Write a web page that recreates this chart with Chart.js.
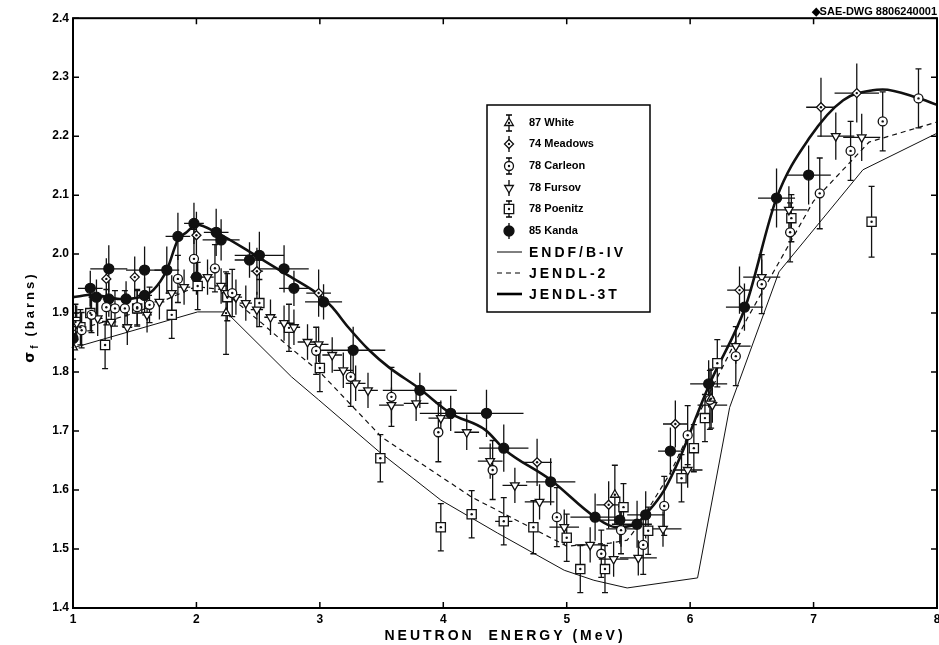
<!DOCTYPE html>
<html>
<head>
<meta charset="utf-8">
<script src="https://cdn.jsdelivr.net/npm/chart.js@4.4.0/dist/chart.umd.min.js"></script>
<style>
  html, body { margin: 0; padding: 0; background: #fff; }
</style>
</head>
<body>
<canvas id="sigmaChart" width="939" height="645"></canvas>
<script>
// axis ticks
const xTicks = [1, 2, 3, 4, 5, 6, 7, 8];
const yTicks = [1.4, 1.5, 1.6, 1.7, 1.8, 1.9, 2.0, 2.1, 2.2, 2.3, 2.4];

// 87 White
const whiteE = [1.00, 2.24, 5.39, 6.17];
const whiteS = [1.842, 1.900, 1.592, 1.755];
const whiteDS = [0.02, 0.07, 0.05, 0.05];

// 74 Meadows
const meadowsE = [1.27, 1.50, 2.00, 2.49, 2.99, 4.76, 5.34, 5.88, 6.40, 7.06, 7.35];
const meadowsS = [1.958, 1.961, 2.032, 1.971, 1.934, 1.647, 1.575, 1.712, 1.939, 2.249, 2.273];
const meadowsDE = [0, 0, 0, 0.05, 0.10, 0.12, 0.10, 0.10, 0.10, 0.12, 0.18];
const meadowsDS = [0.035, 0.035, 0.04, 0.04, 0.04, 0.04, 0.04, 0.04, 0.04, 0.05, 0.05];

// 78 Carlson
const carlsonE = [1.07, 1.15, 1.27, 1.34, 1.42, 1.52, 1.62, 1.85, 1.98, 2.15, 2.29, 2.97, 3.25, 3.58, 3.96,
  4.40, 4.92, 5.28, 5.44, 5.62, 5.79, 5.98, 6.16, 6.37, 6.58, 6.81, 7.05, 7.30, 7.56, 7.85];
const carlsonS = [1.871, 1.897, 1.910, 1.908, 1.908, 1.910, 1.914, 1.958, 1.992, 1.976, 1.934, 1.836, 1.792, 1.758, 1.698,
  1.634, 1.554, 1.492, 1.532, 1.507, 1.573, 1.693, 1.753, 1.827, 1.949, 2.037, 2.103, 2.175, 2.225, 2.264];
const carlsonDS = [0.03, 0.03, 0.03, 0.03, 0.03, 0.03, 0.03, 0.04, 0.05, 0.04, 0.04, 0.04, 0.05, 0.05, 0.05,
  0.05, 0.05, 0.04, 0.04, 0.05, 0.05, 0.05, 0.05, 0.05, 0.05, 0.05, 0.06, 0.05, 0.05, 0.05];

// 78 Fursov
const fursovE = [1.03, 1.20, 1.31, 1.44, 1.60, 1.70, 1.80, 1.90, 2.09, 2.20, 2.25, 2.32, 2.40, 2.49, 2.60, 2.71, 2.79,
  2.90, 2.99, 3.10, 3.19, 3.29, 3.39, 3.58, 3.78, 3.98, 4.19, 4.38, 4.58, 4.78, 4.98, 5.19, 5.38, 5.44, 5.58,
  5.78, 5.98, 6.18, 6.37, 6.58, 6.80, 7.18, 7.39];
const fursovS = [1.883, 1.891, 1.885, 1.876, 1.897, 1.919, 1.934, 1.944, 1.961, 1.946, 1.934, 1.927, 1.917, 1.906, 1.893, 1.883, 1.876,
  1.851, 1.847, 1.829, 1.803, 1.781, 1.769, 1.744, 1.747, 1.722, 1.698, 1.649, 1.608, 1.580, 1.537, 1.507, 1.483, 1.534, 1.485,
  1.534, 1.634, 1.744, 1.844, 1.961, 2.075, 2.200, 2.198];
const fursovDE = [0.03, 0.04, 0.04, 0.04, 0.04, 0.04, 0.05, 0.05, 0.05, 0.05, 0.05, 0.05, 0.05, 0.05, 0.05, 0.05, 0.05,
  0.08, 0.08, 0.08, 0.08, 0.08, 0.08, 0.10, 0.10, 0.10, 0.10, 0.10, 0.10, 0.12, 0.12, 0.12, 0.12, 0.12, 0.15,
  0.15, 0.12, 0.12, 0.12, 0.15, 0.15, 0.15, 0.15];
const fursovDS = [0.03, 0.03, 0.03, 0.03, 0.03, 0.03, 0.03, 0.03, 0.03, 0.03, 0.03, 0.03, 0.03, 0.03, 0.03, 0.03, 0.03,
  0.03, 0.03, 0.03, 0.03, 0.03, 0.03, 0.03, 0.03, 0.03, 0.03, 0.03, 0.03, 0.03, 0.03, 0.03, 0.03, 0.03, 0.03,
  0.03, 0.03, 0.03, 0.03, 0.03, 0.04, 0.04, 0.04];

// 78 Poenitz
const poenitzE = [1.02, 1.06, 1.14, 1.26, 1.52, 1.80, 2.01, 2.25, 2.51, 2.75, 3.00, 3.49, 3.98, 4.23, 4.49, 4.73,
  5.00, 5.11, 5.31, 5.46, 5.66, 5.93, 6.03, 6.12, 6.22, 6.82, 7.47];
const poenitzS = [1.885, 1.876, 1.900, 1.846, 1.908, 1.897, 1.946, 1.927, 1.917, 1.875, 1.807, 1.654, 1.537, 1.559, 1.547, 1.537,
  1.519, 1.466, 1.466, 1.571, 1.531, 1.620, 1.671, 1.722, 1.815, 2.061, 2.055];
const poenitzDE = [0, 0, 0, 0, 0, 0, 0, 0, 0, 0, 0, 0, 0, 0, 0.07, 0, 0, 0, 0, 0, 0, 0, 0, 0, 0, 0, 0];
const poenitzDS = [0.03, 0.03, 0.03, 0.04, 0.03, 0.04, 0.04, 0.04, 0.04, 0.04, 0.04, 0.04, 0.04, 0.04, 0.04, 0.045,
  0.04, 0.04, 0.04, 0.04, 0.04, 0.04, 0.04, 0.04, 0.04, 0.04, 0.06];

// 85 Kanda
const kandaE = [1.00, 1.14, 1.19, 1.29, 1.29, 1.43, 1.58, 1.58, 1.76, 1.85, 1.98, 2.00, 2.16, 2.20, 2.43, 2.51, 2.71,
  2.79, 3.03, 3.27, 3.81, 4.06, 4.35, 4.49, 4.87, 5.23, 5.43, 5.57, 5.64, 5.84, 6.15, 6.44, 6.70, 6.96];
const kandaS = [1.857, 1.942, 1.927, 1.975, 1.924, 1.924, 1.973, 1.930, 1.973, 2.030, 2.052, 1.961, 2.037, 2.024, 1.990, 1.998, 1.975,
  1.942, 1.919, 1.837, 1.769, 1.730, 1.730, 1.671, 1.614, 1.554, 1.549, 1.542, 1.558, 1.666, 1.780, 1.910, 2.095, 2.134];
const kandaDE = [0.03, 0.10, 0.06, 0.15, 0.05, 0.06, 0.15, 0.06, 0.10, 0.10, 0.08, 0.05, 0.10, 0.15, 0.12, 0.20, 0.20,
  0.12, 0.15, 0.26, 0.30, 0.25, 0.30, 0.20, 0.20, 0.20, 0.15, 0.12, 0.15, 0.10, 0.15, 0.15, 0.15, 0.18];
const kandaDS = [0.025, 0.03, 0.03, 0.04, 0.03, 0.03, 0.04, 0.03, 0.04, 0.04, 0.035, 0.03, 0.04, 0.035, 0.03, 0.04, 0.04,
  0.03, 0.03, 0.04, 0.03, 0.03, 0.04, 0.04, 0.04, 0.04, 0.04, 0.04, 0.04, 0.04, 0.04, 0.04, 0.05, 0.05];

// evaluations
const endfE = [1.0, 2.01, 2.24, 2.77, 2.99, 3.48, 3.98, 4.44, 4.98, 5.22, 5.49, 6.06, 6.32, 6.72, 7.40, 8.0];
const endfS = [1.841, 1.902, 1.902, 1.792, 1.753, 1.665, 1.583, 1.527, 1.464, 1.447, 1.434, 1.451, 1.740, 1.970, 2.143, 2.205];

const jendl2E = [1.0, 1.5, 2.0, 2.2, 2.53, 2.75, 3.0, 3.25, 3.5, 4.23, 5.0, 5.35, 5.49, 5.57, 5.84, 6.0, 6.46, 7.0, 7.45, 8.0];
const jendl2S = [1.87, 1.90, 1.945, 1.94, 1.883, 1.843, 1.80, 1.745, 1.69, 1.588, 1.505, 1.51, 1.515, 1.537, 1.629, 1.70, 1.89, 2.09, 2.19, 2.224];

const jendl3E = [1.0, 1.16, 1.38, 1.54, 1.65, 1.76, 1.85, 1.92, 2.0, 2.16, 2.5, 2.75, 3.0, 3.1, 3.23, 3.40, 3.56, 3.80,
  4.06, 4.34, 4.50, 4.87, 5.23, 5.40, 5.57, 5.65, 5.79, 5.92, 6.06, 6.16, 6.45, 6.70, 6.97, 7.24, 7.48, 7.56, 7.83, 8.0];
const jendl3S = [1.927, 1.931, 1.924, 1.927, 1.939, 1.973, 2.024, 2.037, 2.050, 2.037, 1.995, 1.963, 1.930, 1.910, 1.876, 1.837, 1.808, 1.773,
  1.730, 1.702, 1.668, 1.617, 1.554, 1.537, 1.544, 1.561, 1.600, 1.656, 1.730, 1.781, 1.912, 2.095, 2.198, 2.261, 2.278, 2.279, 2.266, 2.253];

const pts = (xs, ys) => xs.map((x, i) => ({ x: x, y: ys[i] }));
const BLACK = '#111';

function expSet(label, xs, ys, dx, dy, style) {
  return Object.assign({
    label: label,
    data: pts(xs, ys),
    showLine: false,
    borderColor: BLACK,
    backgroundColor: '#fff',
    pointBorderWidth: 1.3,
    pointRadius: 4.5,
    xErr: dx,
    yErr: dy
  }, style);
}

function lineSet(label, xs, ys, width, dash, smooth) {
  return {
    label: label,
    data: pts(xs, ys),
    showLine: true,
    borderColor: BLACK,
    borderWidth: width,
    borderDash: dash,
    pointRadius: 0,
    tension: smooth ? 0.4 : 0,
    cubicInterpolationMode: smooth ? 'monotone' : 'default',
    isLine: true
  };
}

// error bars behind the markers, centre dots on top
const errorBars = {
  id: 'errorBars',
  beforeDatasetsDraw(chart) {
    const { ctx, chartArea: a } = chart;
    const sx = chart.scales.x, sy = chart.scales.y;
    ctx.save();
    ctx.beginPath();
    ctx.rect(a.left, a.top, a.right - a.left, a.bottom - a.top);
    ctx.clip();
    ctx.strokeStyle = BLACK;
    ctx.lineWidth = 1.3;
    chart.data.datasets.forEach(ds => {
      if (!ds.yErr) return;
      ds.data.forEach((p, i) => {
        const cx = sx.getPixelForValue(p.x), cy = sy.getPixelForValue(p.y);
        const t = sy.getPixelForValue(p.y + ds.yErr[i]);
        const b = sy.getPixelForValue(p.y - ds.yErr[i]);
        ctx.beginPath();
        ctx.moveTo(cx, t); ctx.lineTo(cx, b);
        if (ds.caps) {
          ctx.moveTo(cx - 3, t); ctx.lineTo(cx + 3, t);
          ctx.moveTo(cx - 3, b); ctx.lineTo(cx + 3, b);
        }
        const xe = ds.xErr ? ds.xErr[i] : 0;
        if (xe) {
          ctx.moveTo(sx.getPixelForValue(p.x - xe), cy);
          ctx.lineTo(sx.getPixelForValue(p.x + xe), cy);
        }
        ctx.stroke();
      });
    });
    ctx.restore();
  },
  afterDatasetsDraw(chart) {
    const { ctx } = chart;
    const sx = chart.scales.x, sy = chart.scales.y;
    ctx.save();
    ctx.fillStyle = BLACK;
    chart.data.datasets.forEach(ds => {
      if (!ds.dot) return;
      ds.data.forEach(p => {
        ctx.beginPath();
        ctx.arc(sx.getPixelForValue(p.x), sy.getPixelForValue(p.y), 1.2, 0, Math.PI * 2);
        ctx.fill();
      });
    });
    ctx.restore();
  }
};

function marker(ctx, ds, x, y) {
  const r = ds.pointRadius;
  ctx.save();
  ctx.translate(x, y);
  if (ds.pointRotation) ctx.rotate(ds.pointRotation * Math.PI / 180);
  ctx.beginPath();
  if (ds.pointStyle === 'triangle') {
    ctx.moveTo(0, -r); ctx.lineTo(r * 0.87, r * 0.5); ctx.lineTo(-r * 0.87, r * 0.5); ctx.closePath();
  } else if (ds.pointStyle === 'rectRot') {
    ctx.moveTo(0, -r); ctx.lineTo(r, 0); ctx.lineTo(0, r); ctx.lineTo(-r, 0); ctx.closePath();
  } else if (ds.pointStyle === 'rect') {
    const h = r * 0.72; ctx.rect(-h, -h, 2 * h, 2 * h);
  } else {
    ctx.arc(0, 0, r, 0, Math.PI * 2);
  }
  ctx.fillStyle = ds.backgroundColor;
  ctx.fill();
  ctx.lineWidth = 1.3;
  ctx.strokeStyle = BLACK;
  ctx.stroke();
  if (ds.dot) {
    ctx.beginPath(); ctx.arc(0, 0, 1.2, 0, Math.PI * 2); ctx.fillStyle = BLACK; ctx.fill();
  }
  ctx.restore();
}

// frame, inward ticks, axis titles and the boxed key
const decorations = {
  id: 'decorations',
  afterDraw(chart) {
    const { ctx, chartArea: a } = chart;
    const sx = chart.scales.x, sy = chart.scales.y;
    ctx.save();
    ctx.strokeStyle = '#000';
    ctx.lineWidth = 2;
    ctx.strokeRect(a.left, a.top, a.right - a.left, a.bottom - a.top);
    ctx.lineWidth = 1.5;
    ctx.beginPath();
    sx.ticks.forEach(t => {
      const px = sx.getPixelForValue(t.value);
      ctx.moveTo(px, a.bottom); ctx.lineTo(px, a.bottom - 6);
      ctx.moveTo(px, a.top); ctx.lineTo(px, a.top + 6);
    });
    sy.ticks.forEach(t => {
      const py = sy.getPixelForValue(t.value);
      ctx.moveTo(a.left, py); ctx.lineTo(a.left + 6, py);
      ctx.moveTo(a.right, py); ctx.lineTo(a.right - 6, py);
    });
    ctx.stroke();

    // x title
    ctx.fillStyle = '#000';
    ctx.font = 'bold 14px "Liberation Sans", Arial, sans-serif';
    ctx.letterSpacing = '3px';
    ctx.textAlign = 'center';
    ctx.textBaseline = 'alphabetic';
    ctx.fillText('NEUTRON  ENERGY (MeV)', (a.left + a.right) / 2, 640);

    // y title with subscript
    ctx.save();
    ctx.translate(34, (a.top + a.bottom) / 2 + 4);
    ctx.rotate(-Math.PI / 2);
    ctx.textAlign = 'left';
    ctx.letterSpacing = '3px';
    ctx.font = 'bold 14px "DejaVu Sans", sans-serif';
    const w1 = ctx.measureText('σ').width;
    ctx.font = 'bold 10px "Liberation Sans", sans-serif';
    const w2 = ctx.measureText('f').width;
    ctx.font = 'bold 13px "Liberation Sans", sans-serif';
    const w3 = ctx.measureText('(barns)').width;
    let x0 = -(w1 + w2 + 6 + w3) / 2;
    ctx.font = 'bold 14px "DejaVu Sans", sans-serif';
    ctx.fillText('σ', x0, 0);
    ctx.font = 'bold 10px "Liberation Sans", sans-serif';
    ctx.fillText('f', x0 + w1, 4);
    ctx.font = 'bold 13px "Liberation Sans", sans-serif';
    ctx.fillText('(barns)', x0 + w1 + w2 + 6, 0);
    ctx.restore();

    // key
    ctx.letterSpacing = '0px';
    ctx.lineWidth = 1.5;
    ctx.strokeStyle = '#000';
    ctx.strokeRect(487, 105, 163, 207);
    const rowY = [123, 144, 166, 188, 209, 231, 252, 273, 294];
    ctx.textAlign = 'left';
    ctx.textBaseline = 'middle';
    chart.data.datasets.forEach((ds, i) => {
      const y = rowY[i];
      if (ds.isLine) {
        ctx.save();
        ctx.beginPath();
        ctx.lineWidth = ds.borderWidth;
        ctx.setLineDash(ds.borderDash || []);
        ctx.moveTo(497, y); ctx.lineTo(522, y);
        ctx.stroke();
        ctx.restore();
        ctx.font = 'bold 14px "Liberation Sans", Arial, sans-serif';
        ctx.letterSpacing = '3px';
        ctx.fillText(ds.label, 529, y + 1);
        ctx.letterSpacing = '0px';
      } else {
        ctx.save();
        ctx.lineWidth = 1.3;
        ctx.beginPath();
        ctx.moveTo(509, y - 8); ctx.lineTo(509, y + 8);
        if (ds.caps) {
          ctx.moveTo(506, y - 8); ctx.lineTo(512, y - 8);
          ctx.moveTo(506, y + 8); ctx.lineTo(512, y + 8);
        }
        ctx.stroke();
        ctx.restore();
        marker(ctx, ds, 509, y);
        ctx.fillStyle = '#000';
        ctx.font = 'bold 11px "Liberation Sans", Arial, sans-serif';
        ctx.fillText(ds.label, 529, y);
      }
    });
    ctx.restore();
  }
};

const tickFont = { family: '"Liberation Sans", Arial, sans-serif', size: 12, weight: 'bold' };

new Chart(document.getElementById('sigmaChart').getContext('2d'), {
  type: 'scatter',
  data: {
    datasets: [
      expSet('87 White', whiteE, whiteS, null, whiteDS, { pointStyle: 'triangle', pointRadius: 5, caps: true, dot: true }),
      expSet('74 Meadows', meadowsE, meadowsS, meadowsDE, meadowsDS, { pointStyle: 'rectRot', pointRadius: 4.5, dot: true }),
      expSet('78 Carleon', carlsonE, carlsonS, null, carlsonDS, { pointStyle: 'circle', pointRadius: 4.5, caps: true, dot: true }),
      expSet('78 Fursov', fursovE, fursovS, fursovDE, fursovDS, { pointStyle: 'triangle', pointRotation: 180, rotation: 180, pointRadius: 5 }),
      expSet('78 Poenitz', poenitzE, poenitzS, poenitzDE, poenitzDS, { pointStyle: 'rect', pointRadius: 6.5, caps: true, dot: true }),
      expSet('85 Kanda', kandaE, kandaS, kandaDE, kandaDS, { pointStyle: 'circle', pointRadius: 5, backgroundColor: BLACK }),
      lineSet('ENDF/B-IV', endfE, endfS, 1, [], false),
      lineSet('JENDL-2', jendl2E, jendl2S, 1.2, [5, 4], false),
      lineSet('JENDL-3T', jendl3E, jendl3S, 2.6, [], true)
    ]
  },
  options: {
    responsive: false,
    animation: false,
    layout: { autoPadding: false, padding: { right: 2, left: 0, bottom: 0 } },
    plugins: {
      legend: { display: false },
      tooltip: { enabled: false },
      title: {
        display: true,
        text: '◆SAE-DWG 8806240001',
        align: 'end',
        color: '#000',
        font: { family: '"Liberation Sans Narrow", "Liberation Sans", sans-serif', size: 11, weight: 'bold' },
        padding: { top: 5, bottom: 0 }
      }
    },
    scales: {
      x: {
        type: 'linear',
        min: 1,
        max: 8,
        afterBuildTicks: s => { s.ticks = xTicks.map(v => ({ value: v })); },
        afterFit: s => { s.height = 37; s.paddingLeft = 0; s.paddingRight = 0; },
        grid: { display: false, drawTicks: false },
        border: { display: false },
        ticks: { color: '#000', font: tickFont, padding: 4, maxRotation: 0 }
      },
      y: {
        type: 'linear',
        min: 1.4,
        max: 2.4,
        afterBuildTicks: s => { s.ticks = yTicks.map(v => ({ value: v })); },
        afterFit: s => { s.width = 73; s.paddingTop = 0; s.paddingBottom = 0; },
        grid: { display: false, drawTicks: false },
        border: { display: false },
        ticks: { color: '#000', font: tickFont, padding: 4, callback: v => v.toFixed(1) }
      }
    }
  },
  plugins: [errorBars, decorations]
});
</script>
</body>
</html>
